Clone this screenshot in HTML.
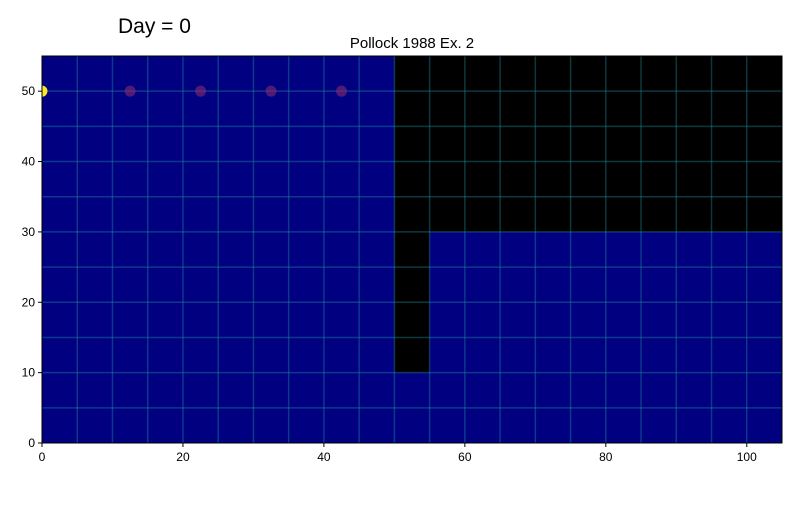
<!DOCTYPE html>
<html><head><meta charset="utf-8"><style>
body{margin:0;background:#fff;font-family:"Liberation Sans","DejaVu Sans",sans-serif}
</style></head><body>
<svg width="800" height="500" xmlns="http://www.w3.org/2000/svg">
<text x="118" y="33" font-size="21">Day = 0</text>
<text x="412" y="48" font-size="15" text-anchor="middle">Pollock 1988 Ex. 2</text>
<g id="plot"></g>
</svg>
<script>
const xTicks=[0,20,40,60,80,100];
const yTicks=[0,10,20,30,40,50];
const dryRects=[[50,30,105,55],[50,10,55,30]];
const particleX=[12.5,22.5,32.5,42.5];
const particleY=[50,50,50,50];
const sourceX=[0];const sourceY=[50];
const X0=42,X1=782,Y0=443,Y1=56;
const sx=v=>X0+v/105*(X1-X0);
const sy=v=>Y0-v/55*(Y0-Y1);
const g=document.getElementById('plot');
const NS='http://www.w3.org/2000/svg';
function mk(t,a){const e=document.createElementNS(NS,t);for(const k in a)e.setAttribute(k,a[k]);g.appendChild(e);return e;}
let e=mk('rect',{x:X0,y:Y1,width:X1-X0,height:Y0-Y1,fill:'#000080'});


dryRects.forEach(r=>{const d=mk('rect',{x:sx(r[0]),y:sy(r[3]),width:sx(r[2])-sx(r[0]),height:sy(r[1])-sy(r[3]),fill:'#000'});

});
for(let v=5;v<105;v+=5){const l=mk('line',{x1:sx(v),x2:sx(v),y1:Y1,y2:Y0,stroke:'rgb(30,140,160)','stroke-opacity':0.4,'stroke-width':1.5});

}
for(let v=5;v<55;v+=5){const l=mk('line',{x1:X0,x2:X1,y1:sy(v),y2:sy(v),stroke:'rgb(30,140,160)','stroke-opacity':0.4,'stroke-width':1.5});

}
particleX.forEach((x,i)=>{const c=mk('circle',{cx:sx(x),cy:sy(particleY[i]),r:5.5,fill:'#8a2a70','fill-opacity':0.6});

});
const cp=document.createElementNS(NS,'clipPath');cp.setAttribute('id','clip');
const cr=document.createElementNS(NS,'rect');cr.setAttribute('x',X0);cr.setAttribute('y',Y1);cr.setAttribute('width',X1-X0);cr.setAttribute('height',Y0-Y1);cp.appendChild(cr);g.appendChild(cp);
sourceX.forEach((x,i)=>{const c=mk('circle',{cx:sx(x),cy:sy(sourceY[i]),r:5.5,fill:'#fde725','clip-path':'url(#clip)'});

});
e=mk('rect',{x:X0,y:Y1,width:X1-X0,height:Y0-Y1,fill:'none',stroke:'#000','stroke-width':1});


xTicks.forEach(v=>{mk('line',{x1:sx(v),x2:sx(v),y1:Y0,y2:Y0+4,stroke:'#000'});
const t=mk('text',{x:sx(v),y:Y0+18,'font-size':12,'text-anchor':'middle'});t.textContent=v;

});
yTicks.forEach(v=>{mk('line',{x1:X0-4,x2:X0,y1:sy(v),y2:sy(v),stroke:'#000'});
const t=mk('text',{x:X0-7,y:sy(v)+4,'font-size':12,'text-anchor':'end'});t.textContent=v;

});
</script>
</body></html>
